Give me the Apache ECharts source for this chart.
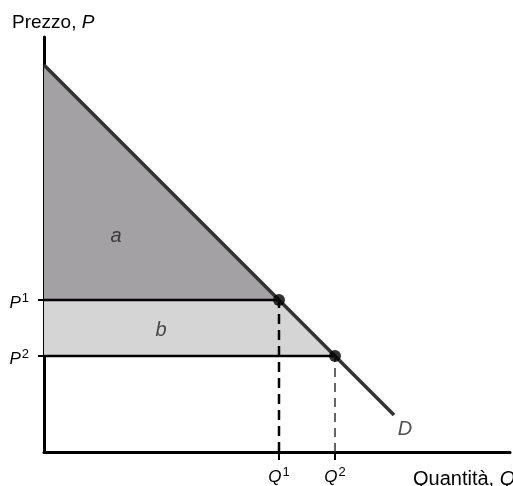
<!DOCTYPE html>
<html>
<head>
<meta charset="utf-8">
<script src="https://cdn.jsdelivr.net/npm/echarts@6/dist/echarts.min.js"></script>
<style>
html, body { margin: 0; padding: 0; background: #fff; }
#chart { width: 513px; height: 486px; }
</style>
</head>
<body>
<div id="chart"></div>
<script>
// curva di domanda D e i due punti (Q1,P1), (Q2,P2)
var demandLine = [[0, 387], [350, 37]];
var quantities = [235, 291];
var prices = [152, 96];
var qLabels = ['1', '2'];
var pLabels = ['1', '2'];
// aree a (surplus) e b
var areaA = [[0, 387], [235, 152], [0, 152]];
var areaB = [[0, 152], [235, 152], [291, 96], [0, 96]];

var myChart = echarts.init(document.getElementById('chart'));
var font = 'Liberation Sans, Arial, sans-serif';

var polygon = function (pts, color) {
    return {
        type: 'custom',
        silent: true,
        z: 1,
        data: [[0, 0]],
        renderItem: function (params, api) {
            return {
                type: 'polygon',
                shape: { points: pts.map(function (p) { return api.coord(p); }) },
                style: { fill: color }
            };
        }
    };
};

var seg = function (data, color, width, dash) {
    return {
        type: 'line',
        data: data,
        symbol: 'none',
        silent: true,
        z: 3,
        lineStyle: { color: color, width: width, type: dash || 'solid' }
    };
};

var textMark = function (pos, txt) {
    return {
        type: 'scatter',
        data: [pos],
        symbolSize: 0,
        silent: true,
        z: 5,
        label: {
            show: true, position: 'inside', formatter: txt,
            fontFamily: font, fontStyle: 'italic', fontSize: 20, color: '#222'
        }
    };
};

var supRich = {
    v: { fontFamily: font, fontStyle: 'italic', fontSize: 17, color: '#000', lineHeight: 20, verticalAlign: 'bottom' },
    s: { fontFamily: font, fontSize: 13, color: '#000', lineHeight: 13, verticalAlign: 'top', padding: [0, 0, 0, 1] }
};

var option = {
    animation: false,
    backgroundColor: '#fff',
    grid: { left: 44, right: 3, top: 37, bottom: 34 },
    xAxis: {
        type: 'value', min: 0, max: 466,
        splitLine: { show: false },
        axisLine: { show: true, lineStyle: { color: '#000', width: 3 } },
        axisTick: { show: true, customValues: quantities, length: 8, lineStyle: { color: '#000', width: 2 } },
        axisLabel: {
            customValues: quantities, margin: 14,
            formatter: function (v) {
                return '{v|Q}{s|' + qLabels[quantities.indexOf(v)] + '}';
            },
            rich: supRich
        }
    },
    yAxis: {
        type: 'value', min: 0, max: 415,
        splitLine: { show: false },
        axisLine: { show: true, lineStyle: { color: '#000', width: 3 } },
        axisTick: { show: true, customValues: prices, length: 6, lineStyle: { color: '#000', width: 2 } },
        axisLabel: {
            customValues: prices, margin: 15, padding: [4, 0, 0, 0],
            formatter: function (v) {
                return '{v|P}{s|' + pLabels[prices.indexOf(v)] + '}';
            },
            rich: supRich
        }
    },
    graphic: [
        {
            type: 'text', left: 12, top: 13,
            style: {
                text: '{r|Prezzo, }{i|P}',
                rich: {
                    r: { fontFamily: font, fontSize: 19, fill: '#000' },
                    i: { fontFamily: font, fontSize: 19, fontStyle: 'italic', fill: '#000' }
                }
            }
        },
        {
            type: 'text', left: 413, top: 469,
            style: {
                text: '{r|Quantità, }{i|Q}',
                rich: {
                    r: { fontFamily: font, fontSize: 20, fill: '#000' },
                    i: { fontFamily: font, fontSize: 20, fontStyle: 'italic', fill: '#000' }
                }
            }
        }
    ],
    series: [
        polygon(areaA, '#a3a1a3'),
        polygon(areaB, '#d5d5d5'),
        seg([[0, prices[0]], [quantities[0], prices[0]]], '#000', 2.5),
        seg([[0, prices[1]], [quantities[1], prices[1]]], '#000', 2.5),
        seg([[quantities[0], 0], [quantities[0], prices[0]]], '#000', 2.5, [10, 6]),
        seg([[quantities[1], 0], [quantities[1], prices[1]]], '#333', 1.5, [9, 6]),
        {
            type: 'line',
            data: demandLine,
            symbol: 'none',
            silent: true,
            z: 4,
            lineStyle: { color: '#333', width: 3.5 }
        },
        {
            type: 'scatter',
            data: quantities.map(function (q, i) { return [q, prices[i]]; }),
            symbolSize: 12,
            z: 6,
            itemStyle: { color: '#000' }
        },
        textMark([72, 216], 'a'),
        textMark([117, 122], 'b'),
        textMark([361, 23], 'D')
    ]
};

myChart.setOption(option);
</script>
</body>
</html>
